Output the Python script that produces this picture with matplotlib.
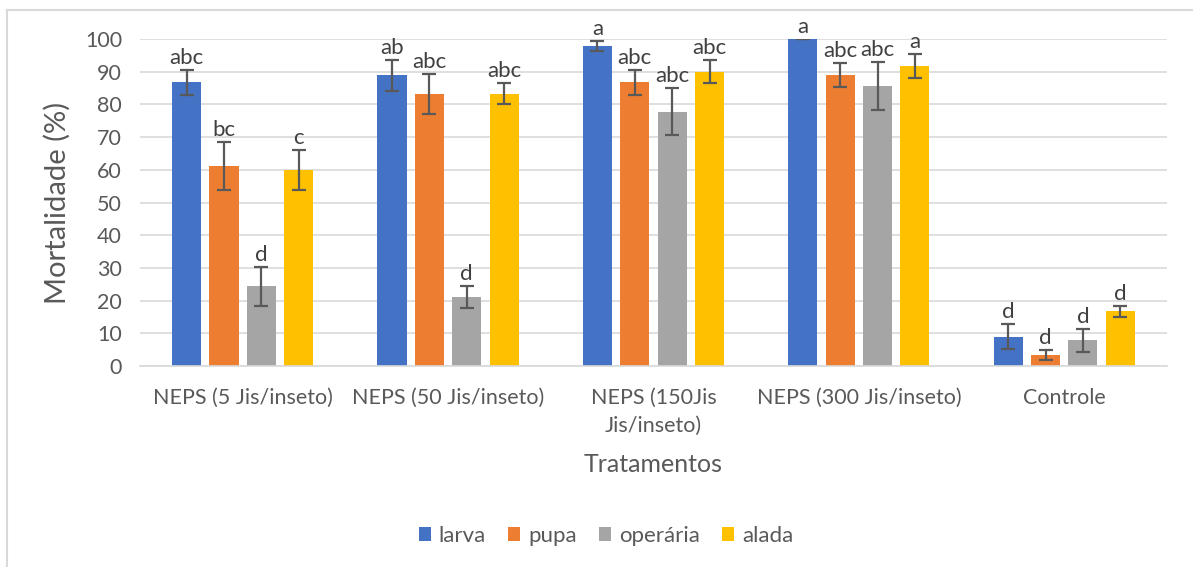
import numpy as np
import matplotlib.pyplot as plt
from matplotlib.lines import Line2D
from matplotlib.patches import Patch

plt.rcParams['font.family'] = ['Lato', 'DejaVu Sans']

tratamentos = ['NEPS (5 Jis/inseto)', 'NEPS (50 Jis/inseto)', 'NEPS (150Jis\nJis/inseto)',
               'NEPS (300 Jis/inseto)', 'Controle']
series = ['larva', 'pupa', 'operária', 'alada']
cores = ['#4472c4', '#ed7d31', '#a5a5a5', '#ffc000']

larva = [86.7, 88.9, 97.8, 100.0, 8.9]
pupa = [61.1, 83.3, 86.7, 88.9, 3.3]
operaria = [24.4, 21.1, 77.8, 85.6, 7.8]
alada = [60.0, 83.3, 90.0, 91.7, 16.7]

err_larva = [3.9, 4.8, 1.5, 0.0, 3.8]
err_pupa = [7.3, 6.1, 3.9, 3.7, 1.5]
err_operaria = [5.9, 3.3, 7.3, 7.3, 3.4]
err_alada = [6.1, 3.2, 3.6, 3.7, 1.6]

letras_larva = ['abc', 'ab', 'a', 'a', 'd']
letras_pupa = ['bc', 'abc', 'abc', 'abc', 'd']
letras_operaria = ['d', 'd', 'abc', 'abc', 'd']
letras_alada = ['c', 'abc', 'abc', 'a', 'd']

valores = [larva, pupa, operaria, alada]
erros = [err_larva, err_pupa, err_operaria, err_alada]
letras = [letras_larva, letras_pupa, letras_operaria, letras_alada]

fig = plt.figure(figsize=(11.93, 5.67), dpi=100)
ax = fig.add_axes([0.1174, 0.3545, 0.8607, 0.5767])

x = np.arange(len(tratamentos))
passo = 0.182
largura = 0.142
txt = '#404040'

for i, (v, e, l) in enumerate(zip(valores, erros, letras)):
    pos = x + (i - 1.5) * passo
    ax.bar(pos, v, largura, color=cores[i], zorder=2)
    ax.errorbar(pos, v, yerr=e, fmt='none', ecolor='#595959', elinewidth=1.6,
                capsize=5, capthick=1.6, zorder=3)
    for xp, yv, ev, s in zip(pos, v, e, l):
        ax.annotate(s, (xp, yv + ev), xytext=(0, 1.5), textcoords='offset points',
                    ha='center', va='bottom', fontsize=16, color=txt)

ax.set_xlim(-0.5, len(tratamentos) - 0.5)
ax.set_ylim(0, 100)
ax.set_yticks(np.arange(0, 101, 10))
ax.yaxis.grid(True, color='#d9d9d9', linewidth=1.2, zorder=0)
ax.set_axisbelow(True)
for s in ['top', 'right', 'left']:
    ax.spines[s].set_visible(False)
ax.spines['bottom'].set_color('#d9d9d9')
ax.spines['bottom'].set_linewidth(1.2)
ax.tick_params(axis='both', length=0, labelsize=15.5, labelcolor='#595959')
ax.tick_params(axis='y', pad=13)
ax.tick_params(axis='x', pad=16)
ax.set_xticks(x)
ax.set_xticklabels(tratamentos, linespacing=1.45)
ax.set_ylabel('Mortalidade (%)', fontsize=21, color='#595959', labelpad=10)
ax.set_xlabel('Tratamentos', fontsize=18, color='#595959', labelpad=13)

handles = [Patch(facecolor=c, label=s) for c, s in zip(cores, series)]
fig.legend(handles=handles, loc='center', bbox_to_anchor=(0.508, 0.055), ncol=4,
           frameon=False, fontsize=16, labelcolor='#595959', handlelength=0.55,
           handleheight=0.55, handletextpad=0.35, columnspacing=1.0)

# chart area border
fig.add_artist(Line2D([7 / 1193, 7 / 1193], [0, 1 - 10 / 567], transform=fig.transFigure,
                      color='#d9d9d9', linewidth=1.5))
fig.add_artist(Line2D([7 / 1193, 1], [1 - 10 / 567, 1 - 10 / 567], transform=fig.transFigure,
                      color='#d9d9d9', linewidth=1.5))

fig.savefig('out.png', dpi=100)
